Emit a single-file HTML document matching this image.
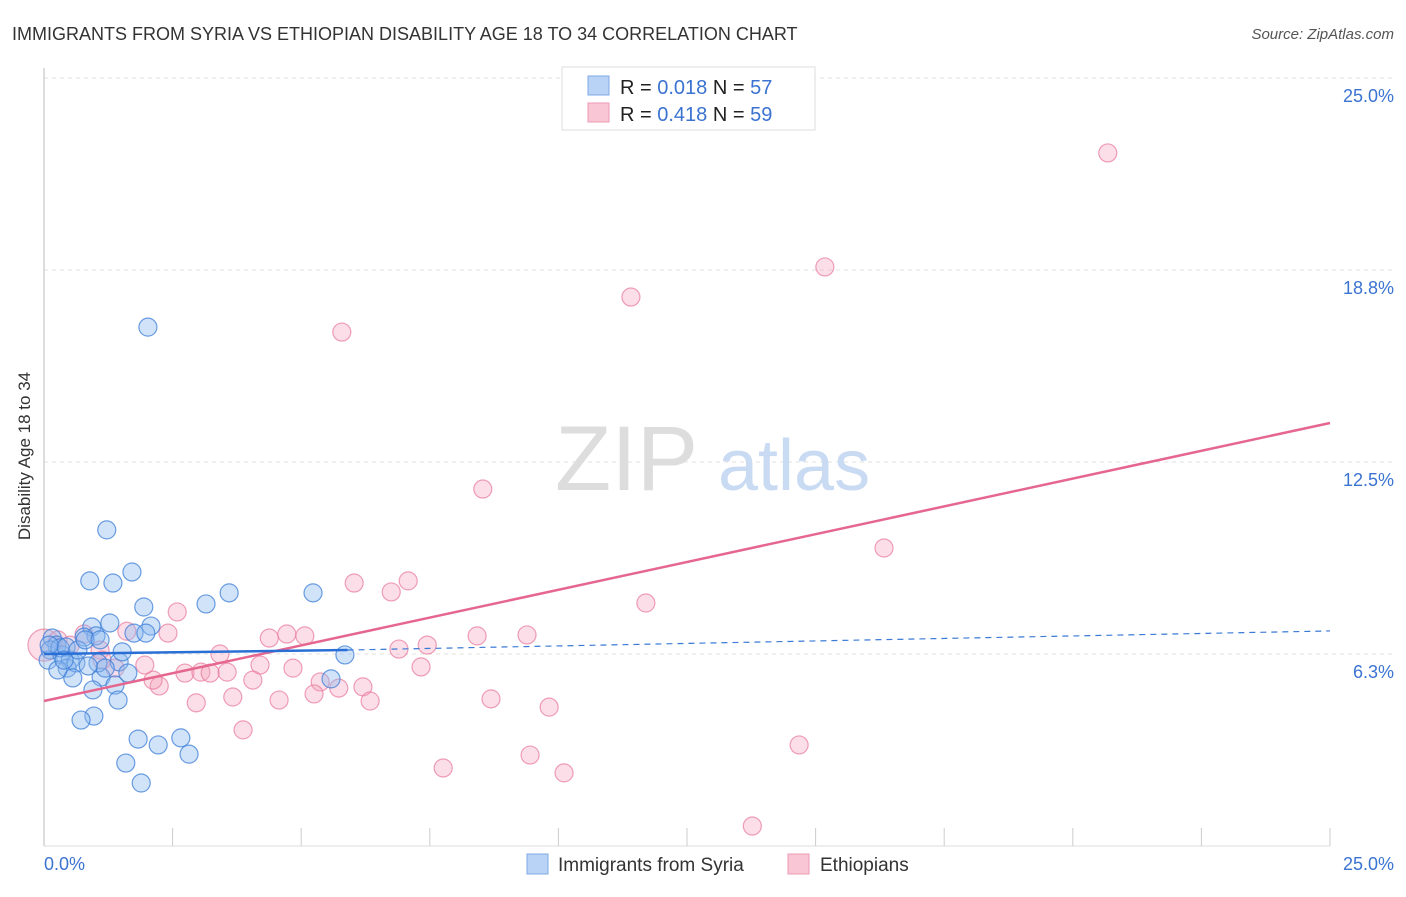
<!DOCTYPE html>
<html><head><meta charset="utf-8"><style>
body{margin:0;background:#fff;font-family:"Liberation Sans",sans-serif;}
svg text{font-family:"Liberation Sans",sans-serif;}
</style></head><body>
<svg id="c" width="1406" height="892" viewBox="0 0 1406 892" xmlns="http://www.w3.org/2000/svg">
<text x="12" y="40" font-size="18" fill="#333">IMMIGRANTS FROM SYRIA VS ETHIOPIAN DISABILITY AGE 18 TO 34 CORRELATION CHART</text>
<text x="1394" y="39" font-size="15" fill="#555" font-style="italic" text-anchor="end">Source: ZipAtlas.com</text>
<g id="grid"></g>
<g><text x="555" y="490" font-size="92" font-family="Liberation Serif,serif" fill="#ddd">ZIP</text><text x="718" y="490" font-size="72" fill="#c9daf3">atlas</text></g>
<line x1="44" y1="68" x2="44" y2="846" stroke="#bbb"/>
<line x1="44" y1="846" x2="1330" y2="846" stroke="#ddd"/>
<g id="ticks"></g>
<g id="pts"></g>
<g id="trend"></g>
<text x="30" y="456" font-size="17" fill="#333" text-anchor="middle" transform="rotate(-90 30 456)">Disability Age 18 to 34</text>
<text x="44" y="870" font-size="18" fill="#3b73d1">0.0%</text>
<text x="1394" y="870" font-size="18" fill="#3b73d1" text-anchor="end">25.0%</text>
<g>
<rect x="562" y="67" width="253" height="63" fill="#fff" stroke="#ddd"/>
<rect x="588" y="76" width="21" height="19" fill="#b8d3f5" stroke="#7fa9e6"/>
<rect x="588" y="103" width="21" height="19" fill="#f8c6d4" stroke="#ee9ab3"/>
<text x="620" y="94" font-size="20" fill="#222">R = <tspan fill="#3b73d1">0.018</tspan>    N = <tspan fill="#3b73d1">57</tspan></text>
<text x="620" y="121" font-size="20" fill="#222">R = <tspan fill="#3b73d1">0.418</tspan>    N = <tspan fill="#3b73d1">59</tspan></text>
</g>
<g>
<rect x="527" y="854" width="21" height="20" fill="#b8d3f5" stroke="#7fa9e6"/>
<text x="558" y="871" font-size="19" fill="#333">Immigrants from Syria</text>
<rect x="788" y="854" width="21" height="20" fill="#f8c6d4" stroke="#ee9ab3"/>
<text x="820" y="871" font-size="19" fill="#333">Ethiopians</text>
</g>
</svg>
<script>
const yTicks=[6.25,12.5,18.75,25];
const yTickLabels=["6.3%","12.5%","18.8%","25.0%"];
const xTicks=[2.5,5,7.5,10,12.5,15,17.5,20,22.5,25];
const syriaX=[2.02,1.22,0.89,1.34,1.71,1.94,3.15,3.60,5.23,1.28,0.93,2.08,1.75,1.98,1.01,0.78,0.16,0.25,0.12,0.08,0.35,0.51,0.45,0.62,0.56,1.11,1.05,1.46,1.52,1.63,1.38,1.19,0.86,0.31,1.44,0.97,0.72,1.83,2.22,2.66,2.82,1.59,1.89,5.85,5.58,0.43,0.66,0.80,1.09,0.10,0.27,0.39,0.95];
const syriaY=[16.89,10.29,8.63,8.56,8.92,7.78,7.88,8.24,8.24,7.26,7.13,7.16,6.93,6.93,6.84,6.80,6.77,6.54,6.38,6.05,6.22,6.05,5.79,5.96,5.47,5.50,5.96,5.99,6.32,5.63,5.24,5.79,5.86,6.45,4.75,4.23,4.10,3.48,3.29,3.52,2.99,2.70,2.05,6.22,5.44,6.48,6.38,6.71,6.71,6.54,5.73,6.05,5.08];
const ethX=[20.68,15.18,11.41,5.79,8.53,16.33,7.08,6.03,6.75,11.70,2.59,9.39,8.42,5.07,4.72,4.38,7.45,6.90,3.42,2.41,1.61,0.78,0,4.20,4.84,7.33,2.74,3.05,3.23,3.56,4.06,5.37,6.20,2.24,2.12,3.67,4.57,5.25,5.73,6.34,2.96,8.69,9.82,3.87,9.45,7.76,10.11,14.68,13.77,1.09,0.27,1.96,1.38,1.13,0.51];
const ethY=[22.56,18.85,17.87,16.73,11.62,9.70,8.63,8.56,8.27,7.91,7.62,6.87,6.84,6.84,6.90,6.77,6.54,6.41,6.25,6.93,6.99,6.90,6.54,5.89,5.79,5.83,5.63,5.66,5.63,5.66,5.40,5.34,5.18,5.21,5.40,4.85,4.75,4.95,5.14,4.72,4.66,4.79,4.52,3.78,2.96,2.54,2.38,3.29,0.65,6.38,6.71,5.89,5.79,6.05,6.54];
const syriaTrend=[6.25,6.38,7.0];   // at x=0, x=5.9 (solid end), x=25
const ethTrend=[4.72,13.77];        // at x=0, x=25
const NS='http://www.w3.org/2000/svg';
const sx=v=>44+v*51.44, sy=v=>846-v*30.72;
function mk(t,a,p){const e=document.createElementNS(NS,t);for(const k in a)e.setAttribute(k,a[k]);p.appendChild(e);return e;}
const grid=document.getElementById('grid');
yTicks.forEach((t,i)=>{
  const l=mk('line',{x1:44,x2:1394,y1:sy(t),y2:sy(t),stroke:'#e2e2e2','stroke-dasharray':'4 4'},grid);
  
  
  const tx=mk('text',{x:1394,y:sy(t)+24,'font-size':18,fill:'#3b73d1','text-anchor':'end'},grid);
  tx.textContent=yTickLabels[i];
  
  
});
const ticks=document.getElementById('ticks');
xTicks.forEach(t=>{
  const l=mk('line',{x1:sx(t),x2:sx(t),y1:828,y2:846,stroke:'#ccc'},ticks);
  
  
});
const pts=document.getElementById('pts');
ethX.forEach((x,i)=>{
  const c=mk('circle',{cx:sx(x),cy:sy(ethY[i]),r:(x===0?16:9),fill:'rgba(244,160,185,0.35)',stroke:'rgba(232,120,155,0.7)','stroke-width':1.2},pts);
  
  
});
syriaX.forEach((x,i)=>{
  const c=mk('circle',{cx:sx(x),cy:sy(syriaY[i]),r:9,fill:'rgba(140,185,240,0.4)',stroke:'rgba(60,125,215,0.75)','stroke-width':1.2},pts);
  
  
});
const tr=document.getElementById('trend');
let l=mk('line',{x1:sx(0),y1:sy(ethTrend[0]),x2:sx(25),y2:sy(ethTrend[1]),stroke:'#e5668f','stroke-width':2.5},tr);


l=mk('line',{x1:sx(5.9),y1:sy(syriaTrend[1]),x2:sx(25),y2:sy(syriaTrend[2]),stroke:'#3b7ad6','stroke-width':1.2,'stroke-dasharray':'6 5'},tr);


l=mk('line',{x1:sx(0),y1:sy(syriaTrend[0]),x2:sx(5.9),y2:sy(syriaTrend[1]),stroke:'#2a6fd6','stroke-width':2.5},tr);


</script>
</body></html>
